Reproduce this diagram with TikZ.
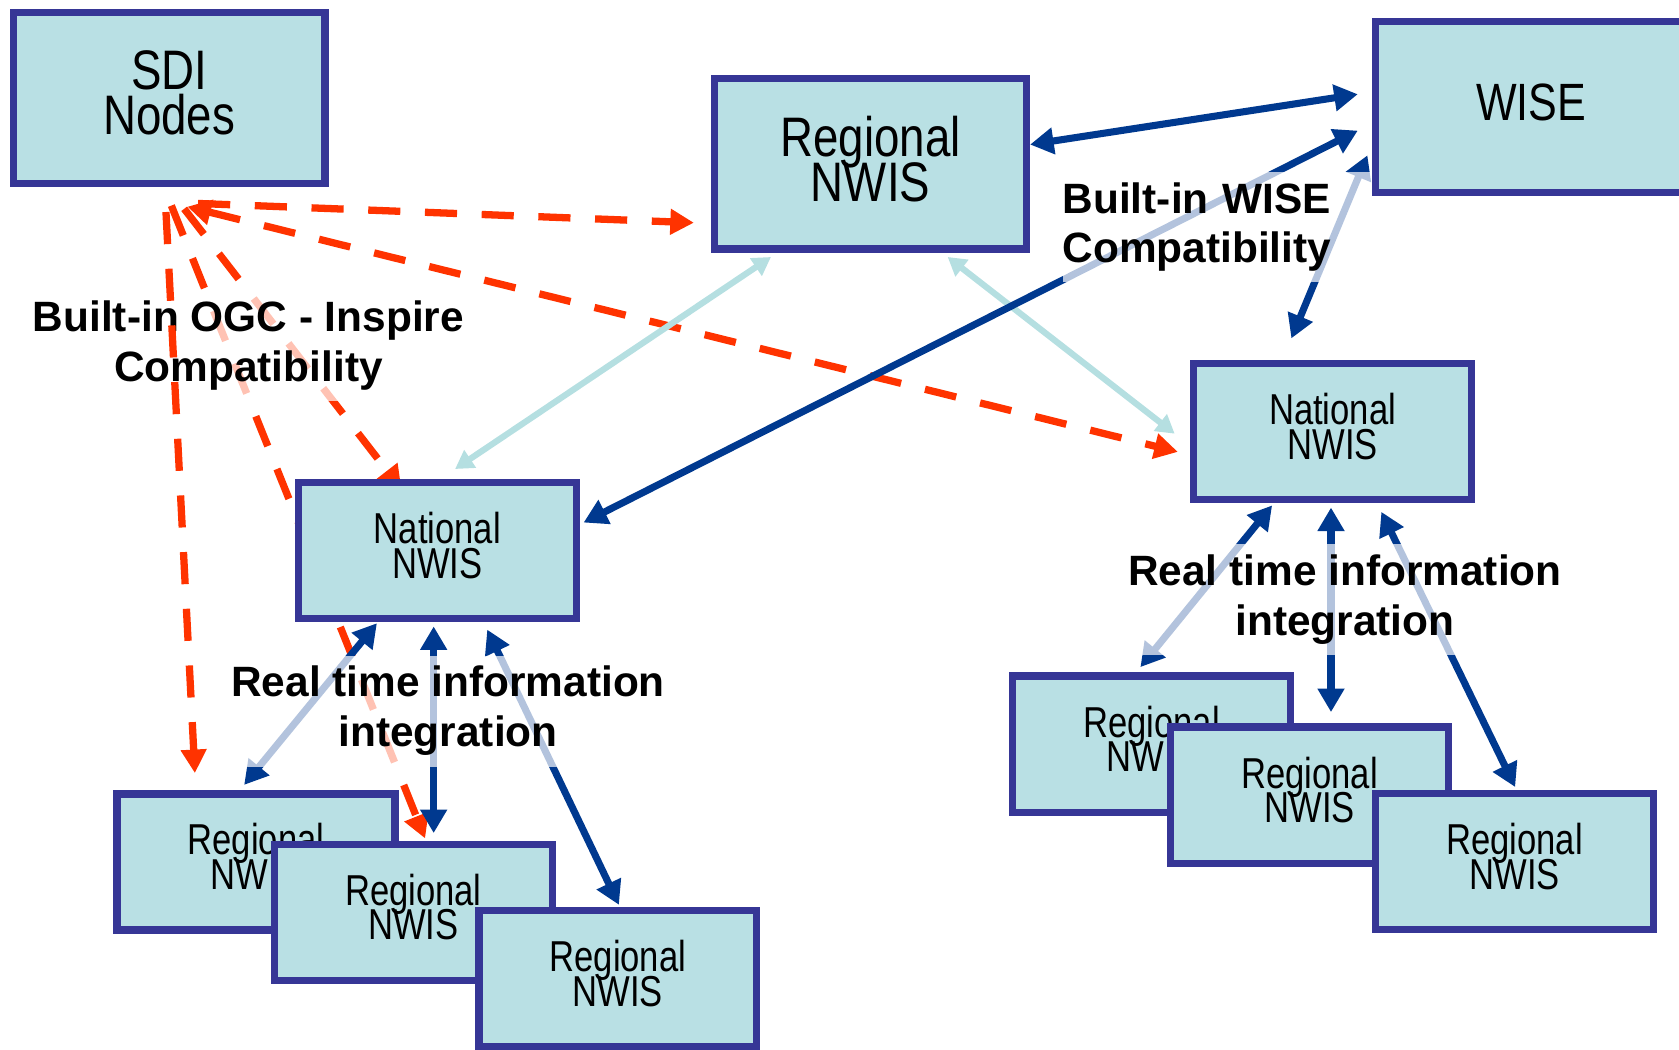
\documentclass[tikz,border=0pt]{standalone}
\usepackage{fontspec}
\setmainfont{Liberation Sans}
\newfontfamily\cond[FakeStretch=0.8]{Liberation Sans}
\newfontfamily\condw[FakeStretch=0.82]{Liberation Sans}
\newfontfamily\lblfam{Liberation Sans}
\usetikzlibrary{arrows.meta,calc}
\definecolor{boxfill}{RGB}{185,224,228}
\definecolor{boxline}{RGB}{54,54,150}
\definecolor{redl}{RGB}{255,51,0}
\definecolor{bluel}{RGB}{0,57,143}
\definecolor{cyanl}{RGB}{181,223,225}
\pgfdeclarelayer{lines}
\pgfdeclarelayer{labels}
\pgfsetlayers{lines,labels,main}
\newcommand\bigboxfont{\condw\fontsize{26}{21}\selectfont\lineskiplimit=-100pt\relax}
\newcommand\wisefont{\condw\fontsize{24.5}{21}\selectfont}
\newcommand\smallboxfont{\cond\fontsize{20.2}{16.2}\selectfont\lineskiplimit=-100pt\relax}
\newcommand\lblfont{\lblfam\bfseries\fontsize{19.8}{23.3}\selectfont}
\tikzset{
  bigbox/.style={draw=boxline, fill=boxfill, line width=3.4pt, inner sep=0pt,
    align=center, minimum width=145.6pt, minimum height=79.6pt,
    font=\bigboxfont, text depth=5pt},
  smallbox/.style={draw=boxline, fill=boxfill, line width=3.4pt, inner sep=0pt,
    align=center, minimum width=129.8pt, minimum height=63.6pt,
    font=\smallboxfont, text depth=5pt},
  bluearrow/.style={draw=bluel, line width=3.3pt,
    {Triangle[length=11pt,width=12pt]}-{Triangle[length=11pt,width=12pt]}},
  cyanarrow/.style={draw=cyanl, line width=2.9pt,
    {Triangle[length=8.5pt,width=9.5pt]}-{Triangle[length=8.5pt,width=9.5pt]}},
  reddash/.style={draw=redl, line width=3.4pt, dash pattern=on 15pt off 11.5pt,
    -{Triangle[length=11pt,width=11.5pt]}},
  lbl/.style={fill=white, fill opacity=0.7, text opacity=1, font=\lblfont,
    inner xsep=5pt, inner ysep=5pt}
}
\begin{document}
\begin{tikzpicture}[x=0.5pt,y=-0.5pt]
\useasboundingbox (0,0) rectangle (1568,980);
% boxes
\node[bigbox] (sdi) at (158,91.5) {SDI\\Nodes};
\node[bigbox] (regtop) at (813,153) {Regional\\NWIS};
\node[bigbox, font=\wisefont] (wise) at (1430,100) {WISE};
\node[smallbox] (natR) at (1244.5,403) {National\\NWIS};
\node[smallbox] (natL) at (408.5,514) {National\\NWIS};
\node[smallbox] (r1) at (239,805) {Regional\\NWIS};
\node[smallbox] (r2) at (386,852) {Regional\\NWIS};
\node[smallbox] (r3) at (577,914) {Regional\\NWIS};
\node[smallbox] (r4) at (1075.5,695) {Regional\\NWIS};
\node[smallbox] (r5) at (1223,742.5) {Regional\\NWIS};
\node[smallbox] (r6) at (1414.5,804.5) {Regional\\NWIS};

\begin{pgfonlayer}{lines}
% red dashed links from SDI nodes
\draw[reddash] ($(sdi.center)+(27,98.5)$) -- ($(regtop.center)+(-165,55)$);
\draw[reddash,{Triangle[length=11pt,width=11.5pt]}-{Triangle[length=11pt,width=11.5pt]}]
  ($(sdi.center)+(17,101.5)$) -- ($(natR.center)+(-144.5,19)$);
\draw[reddash] ($(sdi.center)+(14,103.5)$) -- ($(natL.center)+(-33.5,-57)$);
\draw[reddash] ($(sdi.center)+(2,100.5)$) -- ($(r2.center)+(11,-69)$);
% light cyan links
\draw[cyanarrow] ($(regtop.center)+(-93,87)$) -- ($(natL.center)+(16.5,-76)$);
\draw[cyanarrow] ($(regtop.center)+(72,87)$) -- ($(natR.center)+(-147.5,2)$);
% blue links
\draw[bluearrow] ($(regtop.center)+(149,-18)$) -- ($(wise.center)+(-162,-12)$);
\draw[bluearrow] ($(natL.center)+(136.5,-26)$) -- ($(wise.center)+(-162,22)$);
\draw[bluearrow] ($(wise.center)+(-153,45)$) -- ($(natR.center)+(-38.5,-87)$);
\draw[bluearrow] ($(natL.center)+(-56.5,68)$) -- ($(r1.center)+(-11,-72)$);
\draw[bluearrow] ($(natL.center)+(-3.5,71)$) -- ($(r2.center)+(19,-74)$);
\draw[bluearrow] ($(natL.center)+(46.5,74)$) -- ($(r3.center)+(1,-69)$);
\draw[bluearrow] ($(natR.center)+(-56.5,69)$) -- ($(r4.center)+(-10.5,-72)$);
\draw[bluearrow] ($(natR.center)+(-1.5,71)$) -- ($(r5.center)+(20,-77.5)$);
\draw[bluearrow] ($(natR.center)+(45.5,75)$) -- ($(r6.center)+(0.5,-69.5)$);
\end{pgfonlayer}

\begin{pgfonlayer}{labels}
\node[lbl, align=center] (ogc) at (232,323) {Built-in OGC - Inspire\\Compatibility};
\node[lbl, align=left, anchor=west, text width=148pt, inner xsep=0pt] (wisel) at (992,212) {Built-in WISE\\Compatibility};
\node[lbl, align=center] (rtl) at (418.5,664) {Real time information\\integration};
\node[lbl, align=center] (rtr) at (1256,560) {Real time information\\integration};
\end{pgfonlayer}

% red dashed link drawn above the label
\draw[reddash] ($(sdi.center)+(-3,106.5)$) -- ($(r1.center)+(-57,-83)$);
\end{tikzpicture}
\end{document}
